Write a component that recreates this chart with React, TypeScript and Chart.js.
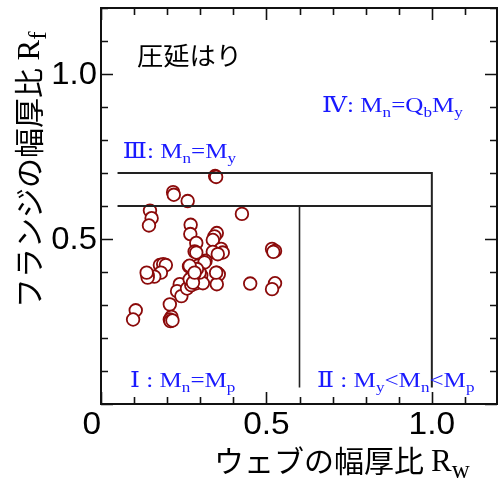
import React, { useEffect, useRef } from "react";
import Chart from "chart.js/auto";

// ---- data ----
const rwValues: number[] = [
  0.345, 0.348, 0.218, 0.220, 0.262, 0.426, 0.148, 0.153, 0.145, 0.271,
  0.270, 0.288, 0.283, 0.350, 0.343, 0.338, 0.363, 0.368, 0.338, 0.517,
  0.526, 0.521, 0.316, 0.303, 0.293, 0.313, 0.178, 0.188, 0.196, 0.181,
  0.161, 0.141, 0.141, 0.138, 0.266, 0.350, 0.356, 0.350, 0.348, 0.451,
  0.526, 0.517, 0.276, 0.283, 0.268, 0.258, 0.248, 0.238, 0.230, 0.243,
  0.260, 0.273, 0.288, 0.303, 0.308, 0.298, 0.290, 0.281, 0.268, 0.268,
  0.278, 0.283, 0.353, 0.288, 0.208, 0.213, 0.208, 0.210, 0.216, 0.105,
  0.097,
];
const rfValues: number[] = [
  0.691, 0.688, 0.642, 0.634, 0.615, 0.576, 0.586, 0.563, 0.541, 0.543,
  0.515, 0.488, 0.462, 0.518, 0.508, 0.497, 0.470, 0.459, 0.461, 0.470,
  0.464, 0.461, 0.434, 0.424, 0.419, 0.429, 0.421, 0.424, 0.421, 0.398,
  0.386, 0.390, 0.383, 0.398, 0.417, 0.398, 0.393, 0.363, 0.398, 0.365,
  0.366, 0.348, 0.388, 0.378, 0.370, 0.363, 0.353, 0.363, 0.342, 0.327,
  0.350, 0.360, 0.366, 0.390, 0.366, 0.398, 0.409, 0.393, 0.419, 0.378,
  0.368, 0.398, 0.454, 0.459, 0.302, 0.264, 0.256, 0.251, 0.253, 0.284,
  0.256,
];

// region boundary lines
const lineMy = [ { x: 0.05, y: 0.7 }, { x: 1.0, y: 0.7 }, { x: 1.0, y: 0.05 } ];
const lineMp = [ { x: 0.05, y: 0.6 }, { x: 1.0, y: 0.6 } ];
const lineRw = [ { x: 0.6, y: 0.6 }, { x: 0.6, y: 0.05 } ];

const xTickValues = [0, 0.5, 1.0];
const xTickLabels = ["0", "0.5", "1.0"];
const yTickValues = [0.5, 1.0];
const yTickLabels = ["0.5", "1.0"];

const regionLabels = [
  { x: 0.066, y: 0.745, parts: [["Ⅲ: M", 0], ["n", 1], ["=M", 0], ["y", 1]] },
  { x: 0.668, y: 0.885, parts: [["Ⅳ: M", 0], ["n", 1], ["=Q", 0], ["b", 1], ["M", 0], ["y", 1]] },
  { x: 0.088, y: 0.052, parts: [["Ⅰ : M", 0], ["n", 1], ["=M", 0], ["p", 1]] },
  { x: 0.653, y: 0.052, parts: [["Ⅱ : M", 0], ["y", 1], ["<M", 0], ["n", 1], ["<M", 0], ["p", 1]] },
];
const titleText = "圧延はり";
const xTitle = "ウェブの幅厚比";
const yTitle = "フランジの幅厚比";

const SERIF = '"Liberation Serif", "DejaVu Serif", serif';
const SANS = '"Liberation Sans", Arial, sans-serif';
const CJK = '"Noto Sans CJK JP", sans-serif';

type Part = { t: string; font: string; dy: number };

function drawParts(ctx: CanvasRenderingContext2D, x: number, y: number, parts: Part[], sx = 1) {
  ctx.save();
  ctx.translate(x, y);
  ctx.scale(sx, 1);
  let cx = 0;
  for (const p of parts) {
    ctx.font = p.font;
    ctx.fillText(p.t, cx, p.dy);
    cx += ctx.measureText(p.t).width;
  }
  ctx.restore();
}

function drawText(ctx: CanvasRenderingContext2D, t: string, x: number, y: number, sx: number) {
  ctx.save();
  ctx.translate(x, y);
  ctx.scale(sx, 1);
  ctx.fillText(t, 0, 0);
  ctx.restore();
}

const overlay = {
  id: "overlay",
  afterDraw(chart: any) {
    const ctx: CanvasRenderingContext2D = chart.ctx;
    const { left, right, top, bottom } = chart.chartArea;
    const xs = chart.scales.x;
    const ys = chart.scales.y;
    ctx.save();
    // frame
    ctx.strokeStyle = "#111";
    ctx.lineWidth = 2;
    ctx.strokeRect(left, top, right - left - 1, bottom - top);
    // ticks
    ctx.lineWidth = 1.6;
    ctx.beginPath();
    for (let i = 0; i <= 12; i++) {
      const v = i / 10;
      const major = i % 5 === 0;
      const len = major ? 12 : 7;
      const px = Math.round(xs.getPixelForValue(v)) + 0.5;
      const py = Math.round(ys.getPixelForValue(v)) + 0.5;
      ctx.moveTo(px, bottom); ctx.lineTo(px, bottom - len);
      ctx.moveTo(px, top); ctx.lineTo(px, top + len);
      ctx.moveTo(left, py); ctx.lineTo(left + len, py);
      ctx.moveTo(right - 1, py); ctx.lineTo(right - 1 - len, py);
    }
    ctx.stroke();
    // tick labels
    ctx.fillStyle = "#000";
    ctx.font = `31px ${SANS}`;
    ctx.textBaseline = "middle";
    xTickValues.forEach((v, i) => {
      const px = xs.getPixelForValue(v);
      ctx.textAlign = v === 0 ? "right" : "center";
      drawText(ctx, xTickLabels[i], v === 0 ? px : px, 425, 1.08);
    });
    ctx.textAlign = "right";
    yTickValues.forEach((v, i) => {
      drawText(ctx, yTickLabels[i], 97, ys.getPixelForValue(v) + 1, 1.06);
    });
    // title in plot
    ctx.textAlign = "left";
    ctx.textBaseline = "middle";
    ctx.font = `25px ${CJK}`;
    drawText(ctx, titleText, 137, 55, 1.05);
    // region labels
    ctx.fillStyle = "#1a1aff";
    ctx.textBaseline = "alphabetic";
    for (const r of regionLabels) {
      const parts: Part[] = r.parts.map(([t, s]: any) => ({
        t,
        font: s ? `15px ${SERIF}` : `22px ${SERIF}`,
        dy: s ? 5 : 0,
      }));
      drawParts(ctx, xs.getPixelForValue(r.x), ys.getPixelForValue(r.y), parts, 1.14);
    }
    // axis titles
    ctx.fillStyle = "#000";
    ctx.textBaseline = "alphabetic";
    drawParts(ctx, 214, 472, [
      { t: xTitle, font: `30px ${CJK}`, dy: 0 },
      { t: " ", font: `28px ${SERIF}`, dy: 0 },
      { t: "R", font: `31px ${SERIF}`, dy: -1 },
      { t: "w", font: `25px ${SERIF}`, dy: 6 },
    ]);
    ctx.translate(40, 308);
    ctx.rotate(-Math.PI / 2);
    drawParts(ctx, 0, 0, [
      { t: yTitle, font: `30px ${CJK}`, dy: 0 },
      { t: " ", font: `30px ${SERIF}`, dy: 0 },
      { t: "R", font: `31px ${SERIF}`, dy: -1 },
      { t: "f", font: `25px ${SERIF}`, dy: 6 },
    ]);
    ctx.restore();
  },
};

export default function App() {
  const ref = useRef<HTMLCanvasElement | null>(null);
  useEffect(() => {
    document.body.style.margin = "0";
    if (!ref.current) return;
    const points = rwValues.map((x, i) => ({ x, y: rfValues[i] }));
    const lineDs = (data: any[], w: number) => ({
      type: "line" as const,
      data,
      borderColor: "#222",
      borderWidth: w,
      pointRadius: 0,
      fill: false,
      tension: 0,
    });
    const zeroPad = (s: any) => {
      s.paddingLeft = 0; s.paddingRight = 0; s.paddingTop = 0; s.paddingBottom = 0;
    };
    const chart = new Chart(ref.current, {
      type: "scatter",
      data: {
        datasets: [
          lineDs(lineMy, 2) as any,
          lineDs(lineMp, 2) as any,
          lineDs(lineRw, 1.6) as any,
          {
            type: "scatter",
            data: points,
            pointRadius: 6.3,
            pointBorderWidth: 1.8,
            pointBackgroundColor: "#ffffff",
            pointBorderColor: "#8b0a0a",
          } as any,
        ],
      },
      options: {
        animation: false,
        responsive: false,
        layout: { autoPadding: false, padding: { top: 8, right: 0, left: 0, bottom: 0 } },
        plugins: { legend: { display: false }, tooltip: { enabled: false } },
        scales: {
          x: {
            type: "linear",
            min: 0,
            max: 1.2,
            grid: { display: false },
            border: { display: false },
            ticks: { display: false },
            afterFit: (s: any) => { s.height = 80; zeroPad(s); },
          },
          y: {
            type: "linear",
            min: 0,
            max: 1.2,
            grid: { display: false },
            border: { display: false },
            ticks: { display: false },
            afterFit: (s: any) => { s.width = 101; zeroPad(s); },
          },
        },
      } as any,
      plugins: [overlay],
    });
    return () => chart.destroy();
  }, []);
  return (
    <div style={{ position: "absolute", left: 0, top: 0, width: 498, height: 484 }}>
      <canvas ref={ref} width={498} height={484} style={{ width: 498, height: 484 }} />
    </div>
  );
}
